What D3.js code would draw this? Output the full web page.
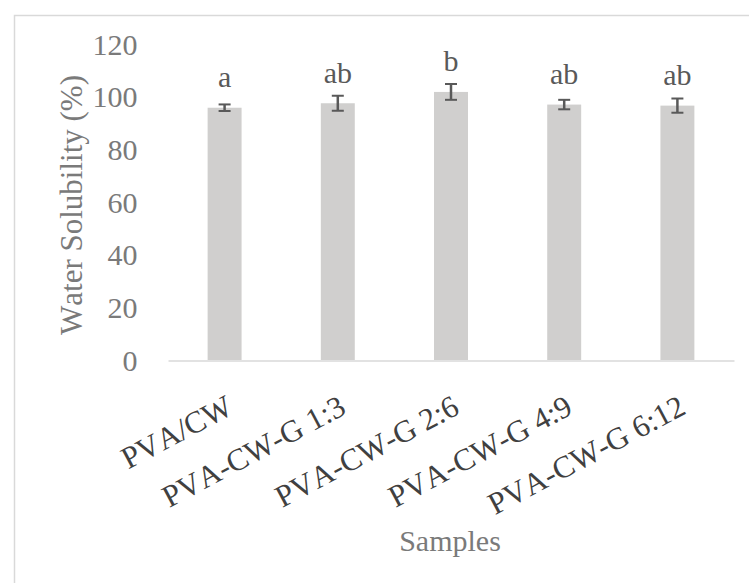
<!DOCTYPE html>
<html>
<head>
<meta charset="utf-8">
<script src="https://cdn.jsdelivr.net/npm/d3@7"></script>
<style>
  html, body { margin: 0; padding: 0; background: #fff; }
  svg { display: block; }
  text { font-family: "Liberation Serif", "Times New Roman", serif; font-kerning: none; }
</style>
</head>
<body>
<svg id="chart" width="749" height="583"></svg>
<script>
// Water solubility of PVA/CW films with increasing glycerol ratios
const samples = ["PVA/CW", "PVA-CW-G 1:3", "PVA-CW-G 2:6", "PVA-CW-G 4:9", "PVA-CW-G 6:12"];
const solubility = [95.8, 97.5, 101.8, 97.0, 96.6];
const solubilityErr = [1.25, 2.85, 3.0, 1.8, 2.7];
const groupLetters = ["a", "ab", "b", "ab", "ab"];
const yTicks = [0, 20, 40, 60, 80, 100, 120];

const svg = d3.select("#chart");
const W = 749, H = 583;

// outer chart frame
svg.append("rect")
  .attr("x", 14.5).attr("y", 15.5)
  .attr("width", W).attr("height", H)
  .attr("fill", "none").attr("stroke", "#d9d9d9").attr("stroke-width", 1.5);

const plot = { left: 168, right: 734, top: 44, bottom: 360 };

const x = d3.scaleBand()
  .domain(samples)
  .range([plot.left, plot.right])
  .paddingInner(0.7)
  .paddingOuter(0.35);

const y = d3.scaleLinear()
  .domain([0, 120])
  .range([plot.bottom, plot.top]);

// y tick labels (no axis line drawn)
const yAxis = d3.axisLeft(y).tickValues(yTicks).tickSize(0).tickPadding(0);
const gy = svg.append("g").attr("transform", "translate(137.5,0)").call(yAxis);
gy.select(".domain").remove();
gy.selectAll(".tick text")
  .attr("x", 0).attr("dy", "0.34em")
  .style("font-family", "'Liberation Serif', serif")
  .style("font-size", "30px")
  .attr("fill", "#7a7a7a");

// bars
svg.append("g").selectAll("rect")
  .data(samples)
  .join("rect")
  .attr("x", d => x(d))
  .attr("width", x.bandwidth())
  .attr("y", (d, i) => y(solubility[i]))
  .attr("height", (d, i) => y(0) - y(solubility[i]))
  .attr("fill", "#d0cfce");

// category axis line
const xAxis = d3.axisBottom(x).tickSize(0).tickFormat("");
const gx = svg.append("g").attr("transform", `translate(0,${plot.bottom + 0.5})`).call(xAxis);
gx.select(".domain").attr("stroke", "#d9d9d9").attr("stroke-width", 1.5);

// error bars
const eb = svg.append("g").attr("stroke", "#595959").attr("stroke-width", 2).attr("fill", "none");
const cap = 6;
samples.forEach((s, i) => {
  const cx = x(s) + x.bandwidth() / 2;
  const y1 = y(solubility[i] + solubilityErr[i]);
  const y0 = y(solubility[i] - solubilityErr[i]);
  eb.append("line").attr("x1", cx).attr("x2", cx).attr("y1", y1).attr("y2", y0).attr("stroke-width", 2.5);
  eb.append("line").attr("x1", cx - cap).attr("x2", cx + cap).attr("y1", y1).attr("y2", y1);
  eb.append("line").attr("x1", cx - cap).attr("x2", cx + cap).attr("y1", y0).attr("y2", y0);
});

// significance letters above bars
svg.append("g").selectAll("text")
  .data(samples)
  .join("text")
  .attr("x", d => x(d) + x.bandwidth() / 2)
  .attr("y", (d, i) => y(solubility[i]) - 20.7)
  .attr("text-anchor", "middle")
  .style("font-size", "30px")
  .attr("fill", "#595959")
  .text((d, i) => groupLetters[i]);

// rotated category labels
svg.append("g").selectAll("text")
  .data(samples)
  .join("text")
  .attr("transform", d =>
    `translate(${x(d) + x.bandwidth() / 2 + 10},413) rotate(-28)`)
  .attr("text-anchor", "end")
  .style("font-size", "31px")
  .attr("fill", "#404040")
  .text(d => d);

// axis titles
svg.append("text")
  .attr("transform", "translate(82,205) rotate(-90)")
  .attr("text-anchor", "middle")
  .style("font-size", "31px")
  .attr("fill", "#7a7a7a")
  .text("Water Solubility (%)");

svg.append("text")
  .attr("x", 450).attr("y", 551)
  .attr("text-anchor", "middle")
  .style("font-size", "30px")
  .attr("fill", "#7a7a7a")
  .text("Samples");
</script>
</body>
</html>
